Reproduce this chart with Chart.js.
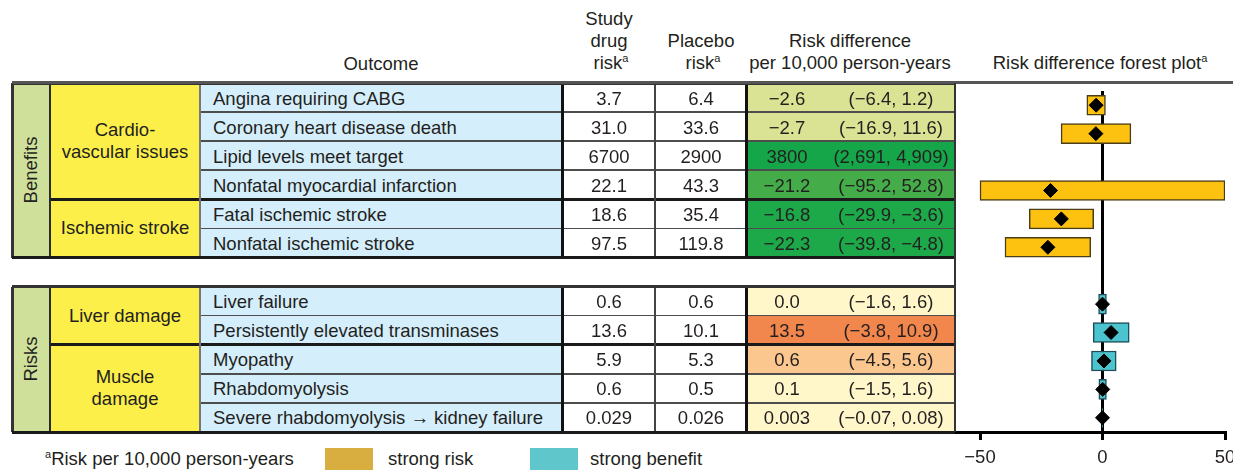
<!DOCTYPE html>
<html>
<head>
<meta charset="utf-8">
<script src="https://cdn.jsdelivr.net/npm/chart.js@4.4.1/dist/chart.umd.min.js"></script>
<style>
  body { margin: 0; width: 1233px; height: 470px; overflow: hidden; background: #fff; position: relative;
         font-family: "Liberation Sans", Arial, sans-serif; color: #231f20; }
  .t { position: absolute; font-size: 18.5px; line-height: 22px; white-space: nowrap; }
  .box { position: absolute; box-sizing: border-box; }
  sup { font-size: 11px; vertical-align: 7px; line-height: 0; }
  #forest { position: absolute; left: 930px; top: 83px; }
</style>
</head>
<body>
<canvas id="forest" width="320" height="387"></canvas>
<script>
const sections = ["Benefits", "Risks"];
const groups = ["Cardio-<br>vascular issues", "Ischemic stroke", "Liver damage", "Muscle<br>damage"];
const groupSection = [0, 0, 1, 1];
const outcomes = [
  "Angina requiring CABG", "Coronary heart disease death", "Lipid levels meet target",
  "Nonfatal myocardial infarction", "Fatal ischemic stroke", "Nonfatal ischemic stroke",
  "Liver failure", "Persistently elevated transminases", "Myopathy", "Rhabdomyolysis",
  "Severe rhabdomyolysis \u2192 kidney failure"
];
const outcomeGroup = [0, 0, 0, 0, 1, 1, 2, 2, 3, 3, 3];
const drugRisk = ["3.7", "31.0", "6700", "22.1", "18.6", "97.5", "0.6", "13.6", "5.9", "0.6", "0.029"];
const placeboRisk = ["6.4", "33.6", "2900", "43.3", "35.4", "119.8", "0.6", "10.1", "5.3", "0.5", "0.026"];
const riskDiff = ["\u22122.6", "\u22122.7", "3800", "\u221221.2", "\u221216.8", "\u221222.3", "0.0", "13.5", "0.6", "0.1", "0.003"];
const riskCI = ["(\u22126.4, 1.2)", "(\u221216.9, 11.6)", "(2,691, 4,909)", "(\u221295.2, 52.8)", "(\u221229.9, \u22123.6)",
  "(\u221239.8, \u22124.8)", "(\u22121.6, 1.6)", "(\u22123.8, 10.9)", "(\u22124.5, 5.6)", "(\u22121.5, 1.6)", "(\u22120.07, 0.08)"];

// forest plot values (as drawn)
const plotEst = [-2.6, -2.7, 3800, -21.2, -16.8, -22.3, 0.0, 3.5, 0.6, 0.1, 0.003];
const plotLo = [-6.4, -16.9, 2691, -95.2, -29.9, -39.8, -1.6, -3.8, -4.5, -1.5, -0.07];
const plotHi = [1.2, 11.6, 4909, 52.8, -3.6, -4.8, 1.6, 10.9, 5.6, 1.6, 0.08];
const xTicks = [-50, 0, 50];

// ---- styling ----
const rdColors = ["#d9e393", "#d9e393", "#16a64a", "#44ad4a", "#1da84a", "#1da84a",
  "#fff6c9", "#f1874c", "#fcc78e", "#fff6c9", "#fff6c9"];
const sectionColor = "#cfe09b";
const groupColor = "#fdef4a";
const outcomeColor = "#d5eefb";
const barFill = ["#fdc210", "#4cc4cf"];
const barEdge = ["#4a3d18", "#1c4d57"];

const top0 = 83, bottom0 = 432, nSlots = outcomes.length + 1;
const rowH = (bottom0 - top0) / nSlots;
const slotOf = i => i + groupSection[outcomeGroup[i]];
const yOf = s => top0 + s * rowH;

function el(cls, x, y, w, h, bg, html) {
  const d = document.createElement("div");
  d.className = cls;
  d.style.left = x + "px"; d.style.top = y + "px";
  if (w != null) d.style.width = w + "px";
  if (h != null) d.style.height = h + "px";
  if (bg) d.style.background = bg;
  if (html != null) d.innerHTML = html;
  document.body.appendChild(d);
  return d;
}
function text(html, cx, cy, align) {
  const d = el("t", cx, cy, null, null, null, html);
  d.style.transform = align === "left" ? "translate(0,-50%)" : "translate(-50%,-50%)";
  d.style.textAlign = "center";
  return d;
}
function hline(x1, x2, y, w, c) { el("box", x1, y - w / 2, x2 - x1, w, c); }
function vline(x, y1, y2, w, c) { el("box", x - w / 2, y1, w, y2 - y1, c); }

// header
text("Outcome", 381, 64);
text("Study", 609, 19); text("drug", 609, 41); text("risk<sup>a</sup>", 611, 63);
text("Placebo", 701, 41); text("risk<sup>a</sup>", 703, 63);
text("Risk difference", 850, 41); text("per 10,000 person-years", 850, 63);
text("Risk difference forest plot<sup>a</sup>", 1100, 63);

// cells
outcomes.forEach((name, i) => {
  const s = slotOf(i), y = yOf(s), cy = y + rowH / 2;
  el("box", 200, y, 362, rowH, outcomeColor);
  el("box", 746, y, 209, rowH, rdColors[i]);
  text(name, 213, cy + 1, "left");
  text(drugRisk[i], 609, cy + 1);
  text(placeboRisk[i], 701, cy + 1);
  text(riskDiff[i], 787, cy + 1);
  text(riskCI[i], 891, cy + 1);
});
groups.forEach((g, gi) => {
  const rows = outcomeGroup.map((v, i) => v === gi ? slotOf(i) : -1).filter(v => v >= 0);
  const y1 = yOf(rows[0]), y2 = yOf(rows[rows.length - 1] + 1);
  el("box", 50, y1, 150, y2 - y1, groupColor);
  text(g, 125, (y1 + y2) / 2);
});
sections.forEach((sec, si) => {
  const rows = outcomeGroup.map((g, i) => groupSection[g] === si ? slotOf(i) : -1).filter(v => v >= 0);
  const y1 = yOf(rows[0]), y2 = yOf(rows[rows.length - 1] + 1);
  el("box", 12, y1, 38, y2 - y1, sectionColor);
  const t = text(sec, 31, (y1 + y2) / 2);
  t.style.transform = "translate(-50%,-50%) rotate(-90deg)";
  // row separators
  rows.slice(1).forEach(s => {
    const i = outcomes.findIndex((_, k) => slotOf(k) === s);
    const newGroup = outcomeGroup[i] !== outcomeGroup[i - 1];
    if (newGroup) hline(50, 955, yOf(s), 3, "#1a1a1a");
    else hline(200, 955, yOf(s), 1.6, "#4d4d4d");
  });
  vline(50, y1, y2, 2.5, "#2a2a2a");
  vline(200, y1, y2, 1.2, "#777");
  vline(562, y1, y2, 3, "#111");
  vline(655, y1, y2, 1.6, "#444");
  vline(746, y1, y2, 3, "#111");
  vline(12, y1, y2, 3, "#333");
  hline(12, 955, y1, 3, "#333");
  hline(12, 955, y2, 3, "#1a1a1a");
});
hline(12, 1233, top0 - 0.5, 2.5, "#555");
vline(955, top0, bottom0, 2.5, "#333");

// footnote + legend
text("<sup>a</sup>Risk per 10,000 person-years", 45, 459, "left");
el("box", 325, 448, 48, 22, "#d9ae40");
text("strong risk", 388, 459, "left");
el("box", 530, 448, 48, 22, "#5fc7cc");
text("strong benefit", 590, 459, "left");

// ---- forest plot ----
const xMin = -60, xMax = 50, showLo = -50, showHi = 50;
const slotLabels = Array.from({ length: nSlots }, () => "");
outcomes.forEach((o, i) => { slotLabels[slotOf(i)] = o; });
const barData = Array(nSlots).fill(null);
const barColors = Array(nSlots).fill(barFill[0]);
const edgeColors = Array(nSlots).fill(barEdge[0]);
const points = [];
outcomes.forEach((o, i) => {
  const s = slotOf(i), sec = groupSection[outcomeGroup[i]];
  barColors[s] = barFill[sec];
  edgeColors[s] = barEdge[sec];
  if (plotHi[i] < showLo || plotLo[i] > showHi) return; // off the plotted range
  barData[s] = [Math.max(plotLo[i], showLo), Math.min(plotHi[i], showHi)];
  points.push({ x: plotEst[i], y: slotLabels[s] });
});

new Chart(document.getElementById("forest"), {
  type: "bar",
  data: {
    labels: slotLabels,
    datasets: [
      {
        data: barData,
        backgroundColor: barColors,
        borderColor: edgeColors,
        borderWidth: 1.5,
        borderSkipped: false,
        barThickness: 20,
        order: 2,
      },
      {
        type: "scatter",
        indexAxis: "x",
        data: points,
        pointStyle: "rectRot",
        pointRadius: 7,
        backgroundColor: "#000",
        borderColor: "#000",
        borderWidth: 1,
        order: 1,
      },
    ],
  },
  options: {
    indexAxis: "y",
    responsive: false,
    animation: false,
    layout: { padding: { left: 25.5, right: 25, top: 0, bottom: 0 } },
    plugins: { legend: { display: false }, tooltip: { enabled: false } },
    scales: {
      x: {
        type: "linear",
        min: xMin,
        max: xMax,
        z: 1,
        afterBuildTicks: (s) => { s.ticks = xTicks.map((v) => ({ value: v })); },
        afterFit: (s) => { s.height = 38; },
        grid: {
          color: (c) => (c.tick && c.tick.value === 0 ? "#000" : "rgba(0,0,0,0)"),
          lineWidth: 3,
          tickColor: "#000",
          tickWidth: 3,
          tickLength: 8,
        },
        border: { display: true, color: "#000", width: 3 },
        ticks: {
          color: "#231f20",
          padding: 7,
          maxRotation: 0,
          font: { family: "Liberation Sans", size: 18.5 },
          callback: (v) => (v < 0 ? "\u2212" + Math.abs(v) : String(v)),
        },
      },
      y: { type: "category", display: false, offset: true },
    },
  },
});
</script>
</body>
</html>
